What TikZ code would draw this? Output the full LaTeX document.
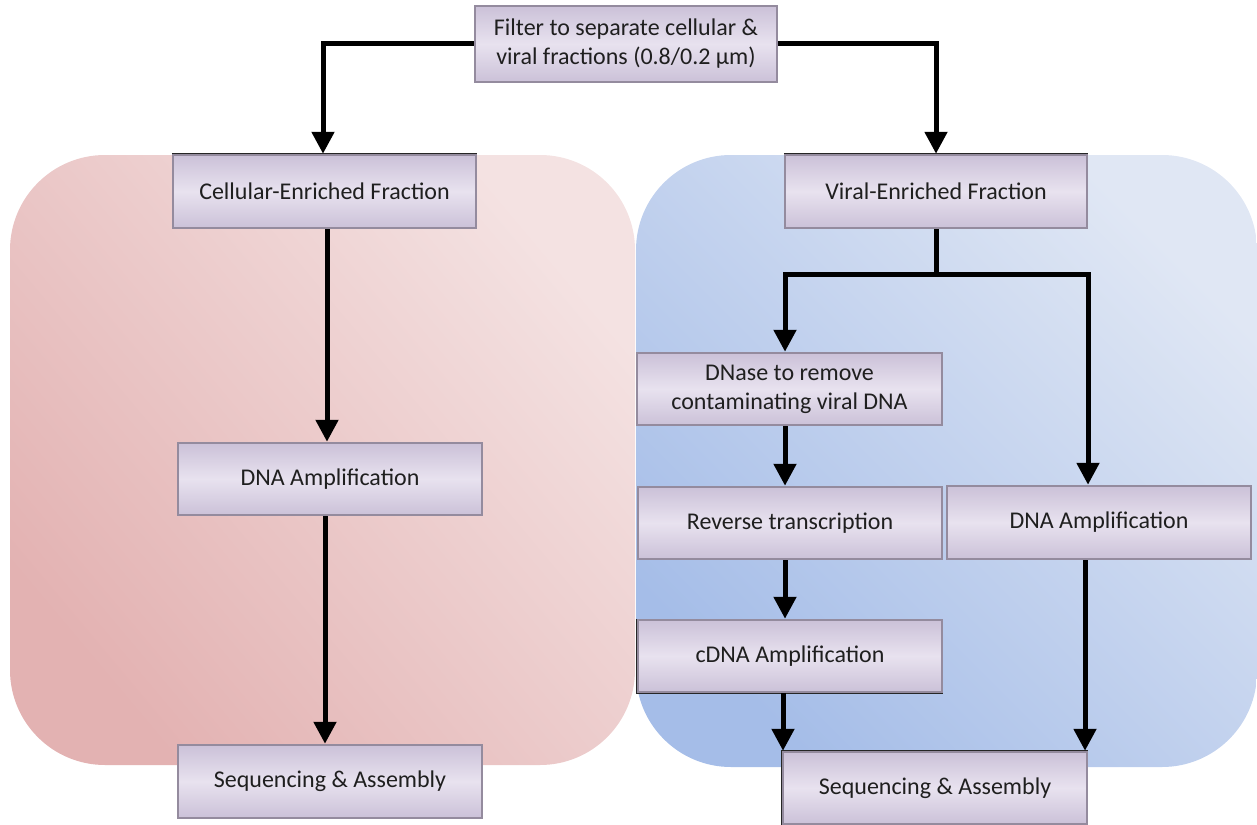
\documentclass[tikz,border=0pt]{standalone}
\usepackage{fontspec}
\setmainfont{Carlito}
\usetikzlibrary{arrows.meta,calc}
\definecolor{boxedge}{HTML}{948B9E}
\definecolor{boxtop}{HTML}{CBC1D8}
\definecolor{boxmid}{HTML}{E8E2EF}
\definecolor{pinkA}{HTML}{F4E2E2}
\definecolor{pinkM}{HTML}{E7BCBC}
\definecolor{pinkB}{HTML}{E3B2B2}
\definecolor{blueA}{HTML}{E0E7F4}
\definecolor{blueB}{HTML}{A5BDE8}
\begin{document}
\begin{tikzpicture}[x=1pt,y=-1pt,
  box/.style={draw=boxedge, line width=2.5pt, top color=boxtop, bottom color=boxtop, middle color=boxmid,
    minimum width=304pt, minimum height=72pt, inner sep=0pt, align=center,
    font=\fontsize{24}{29}\selectfont, text=black!88},
  arr/.style={line width=5pt, -{Triangle[width=22pt,length=22pt]}},
  ln/.style={line width=5pt},
  edgeline/.style={black!85, line width=1.2pt}]
\useasboundingbox (0,0) rectangle (1257,824);
% backgrounds
\shade[top color=pinkA, middle color=pinkM, bottom color=pinkB, shading angle=-50, rounded corners=95pt] (10,155) rectangle (635,765);
\shade[top color=blueA, bottom color=blueB, shading angle=-45, rounded corners=95pt] (636,155) rectangle (1257,767);
% boxes
\node[box, minimum width=302pt, minimum height=76pt] (top) at (626,44) {Filter to separate cellular \&\\viral fractions (0.8/0.2 µm)};
\node[box, minimum width=303pt, minimum height=73pt] (cell) at (324.5,191.5) {Cellular-Enriched Fraction};
\node[box, minimum width=302pt, minimum height=73pt] (viral) at (936,191.5) {Viral-Enriched Fraction};
\node[box, minimum width=305pt] (dnase) at (789.5,389) {DNase to remove\\contaminating viral DNA};
\node[box] (dnaL) at (330,479) {DNA Amplification};
\node[box] (rev) at (790,523) {Reverse transcription};
\node[box, minimum height=73pt] (dnaR) at (1099,522.5) {DNA Amplification};
\node[box] (cdna) at (790,656) {cDNA Amplification};
\node[box, minimum height=73pt] (seqL) at (330,781.5) {Sequencing \& Assembly};
\node[box] (seqR) at (935,788) {Sequencing \& Assembly};
% shadow edges
\draw[edgeline] (cell.north west) -- (cell.north east);
\draw[edgeline] (viral.north west) -- (viral.north east);
\draw[edgeline] (seqR.south west) -- (seqR.north west) -- (seqR.north east);
\draw[edgeline] (cdna.north west) -- (cdna.south west) -- (cdna.south east);
% connectors
\draw[arr] (top.west) -| ([xshift=-1.5pt]cell.north);
\draw[arr] (top.east) -| (viral.north);
\draw[arr] ([xshift=2.5pt]cell.south) -- ([xshift=2.5pt]cell.south |- dnaL.north);
\draw[arr] ([xshift=-5pt]dnaL.south) -- ([xshift=-5pt]dnaL.south |- seqL.north);
\path (viral.south) ++(0,45) coordinate (br);
\draw[ln] (viral.south) -- (br);
\draw[arr] (br) -| ([xshift=-4.5pt]dnase.north);
\draw[arr] (br) -| ([xshift=-11pt]dnaR.north);
\draw[arr] ([xshift=-4.5pt]dnase.south) -- ([xshift=-4.5pt]dnase.south |- rev.north);
\draw[arr] ([xshift=-5pt]rev.south) -- ([xshift=-5pt]rev.south |- cdna.north);
\draw[arr] ([xshift=-7pt]cdna.south) -- ([xshift=-7pt]cdna.south |- seqR.north);
\draw[arr] ([xshift=-14pt]dnaR.south) -- ([xshift=-14pt]dnaR.south |- seqR.north);
\end{tikzpicture}
\end{document}
